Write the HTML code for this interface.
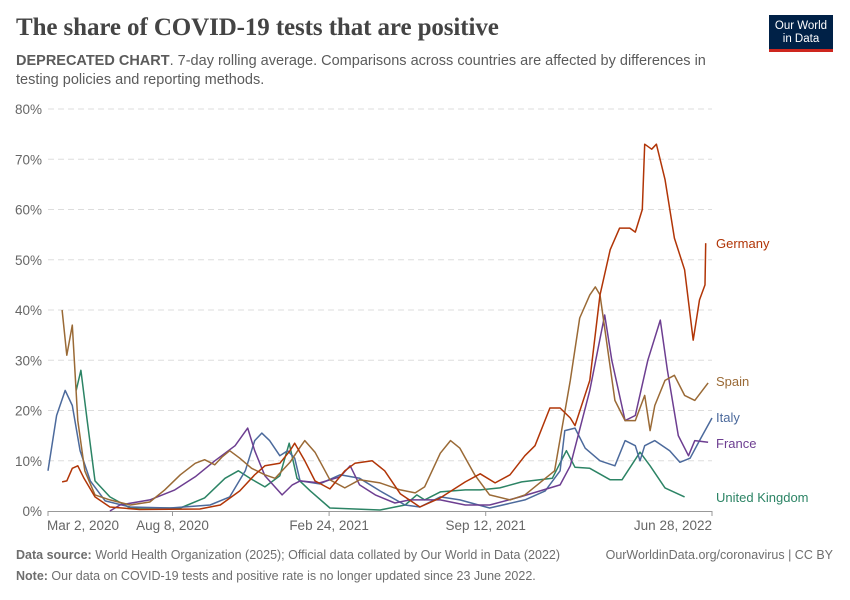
<!DOCTYPE html>
<html><head><meta charset="utf-8">
<style>
body{margin:0;background:#fff;width:850px;height:600px;overflow:hidden;font-family:"Liberation Sans",sans-serif}
#title{position:absolute;left:16px;top:14px;font-family:"Liberation Serif",serif;font-size:25px;color:#444;margin:0;font-weight:bold;letter-spacing:-0.1px}
#sub{position:absolute;left:16px;top:52px;width:720px;font-size:14.5px;line-height:19px;color:#5b5b5b}
#logo{position:absolute;left:769px;top:15px;width:64px;height:37px;background:#002147;border-bottom:3px solid #ce261e;color:#fff;font-size:11.5px;line-height:13px;text-align:center;box-sizing:border-box;padding-top:5px}
.foot{position:absolute;font-size:12.5px;color:#6e6e6e}
</style></head><body>
<h1 id="title">The share of COVID-19 tests that are positive</h1>
<div id="sub"><b>DEPRECATED CHART</b>. 7-day rolling average. Comparisons across countries are affected by differences in testing policies and reporting methods.</div>
<div id="logo">Our World<br>in Data</div>
<svg id="chart" width="850" height="600" style="position:absolute;left:0;top:0"></svg>
<div class="foot" style="left:16px;top:548px"><b>Data source:</b> World Health Organization (2025); Official data collated by Our World in Data (2022)</div>
<div class="foot" style="right:17px;top:548px">OurWorldinData.org/coronavirus | CC BY</div>
<div class="foot" style="left:16px;top:569px"><b>Note:</b> Our data on COVID-19 tests and positive rate is no longer updated since 23 June 2022.</div>
<script>
// day offsets from Mar 2, 2020 and positive rate (%)
const germanyDays=[18,24,31,38,46,60,79,117,194,220,245,264,277,296,309,315,328,341,360,379,392,414,430,450,475,501,533,552,571,590,609,622,641,654,667,673,692,705,718,730,743,750,759,762,771,777,788,800,813,824,832,839,840];
const germanyVals=[5.8,6,8.5,9,6.5,2.8,0.8,0.3,0.4,1.2,4,7.2,9,9.5,12,13.5,10,6,4.4,8,9.5,10,8,3.4,0.8,2.6,5.8,7.4,5.6,7.2,11,13,20.5,20.5,18.5,17,26,43,52,56.3,56.3,55.5,60,73,72,73,66,54.3,48,34,42,45,53.3];
const spainDays=[18,24,31,38,47,60,79,105,130,149,169,188,200,213,222,232,245,260,277,290,309,322,328,341,360,379,398,424,450,469,481,501,514,526,545,564,590,609,647,667,679,692,699,705,724,737,750,762,769,775,788,800,813,826,843];
const spainVals=[40,31,37,18,8,3.2,2.2,1.2,1.8,4.2,7.2,9.5,10.2,9.2,10.7,12,10.5,8.5,7.2,6.5,9.7,12.7,14,11.7,6.2,4.6,6.2,5.6,4.2,3.6,4.8,11.5,14,12.5,7.2,3.2,2.2,3.2,8,26,38.4,43,44.6,43,22,18,18,23,16,21,26,27,23,22,25.5];
const italyDays=[0,5,11,22,31,41,54,73,105,156,207,232,252,264,273,283,296,306,315,322,347,373,398,424,456,475,501,526,564,609,635,654,660,673,686,705,724,737,750,756,762,775,794,807,820,832,848];
const italyVals=[8,13,19,24,21,12,6,2,0.8,0.6,1.2,2.8,8,14,15.5,14,11,12,10.5,6,5.4,7.2,6.5,4,1.2,0.8,2.8,2.2,0.6,2.2,4,8,16,16.5,12.5,10,9,14,13,10,13,14,12,9.7,10.5,14,18.5];
const franceDays=[79,92,130,162,188,213,239,255,264,277,299,312,322,347,373,386,398,418,443,462,501,533,564,603,654,667,692,711,720,737,750,766,782,791,805,818,826,843];
const franceVals=[0,1.2,2.2,4.2,6.8,10,13,16.5,12,7,3.2,5.2,6,5.6,6.8,9,5.2,3.2,1.6,2.2,2.2,1.2,1.2,2.8,5.2,9,24,39,30,18,19,30,38,28,15,11,14,13.7];
const ukDays=[36,42,50,60,79,105,169,200,226,243,258,277,296,308,318,335,360,424,456,471,481,501,533,552,577,605,644,662,673,692,718,733,756,769,788,813];
const ukVals=[24,28,18,6,2.8,0.6,0.6,2.6,6.5,8,6.5,4.8,7,13.5,6.5,4,0.6,0.2,1.2,3.2,2.2,3.8,4.2,4.2,4.6,5.8,6.5,12,8.7,8.5,6.2,6.2,11.7,9,4.6,2.8];
const yTicks=[0,10,20,30,40,50,60,70,80];
const xTickDays=[0,159,359,559,848];
const xTickLabels=["Mar 2, 2020","Aug 8, 2020","Feb 24, 2021","Sep 12, 2021","Jun 28, 2022"];

const X0=48,X1=712,Y0=511,Y1=109,DMAX=848;
const xs=d=>X0+(X1-X0)*d/DMAX;
const ys=v=>Y0-(Y0-Y1)*v/80;
const NS="http://www.w3.org/2000/svg";
const svg=document.getElementById('chart');
function mk(t,a){const e=document.createElementNS(NS,t);for(const k in a)e.setAttribute(k,a[k]);svg.appendChild(e);return e;}
yTicks.forEach(v=>{
  if(v>0){const g=mk('line',{x1:X0,x2:X1,y1:ys(v),y2:ys(v),stroke:'#dddddd','stroke-dasharray':'6,4'});
  
  }
  const t=mk('text',{x:42,y:ys(v)+5,'text-anchor':'end','font-size':'13.5',fill:'#666','font-family':'Liberation Sans, sans-serif'});
  t.textContent=v+'%';
  
  
});
const ax=mk('line',{x1:X0,x2:X1,y1:Y0+0.5,y2:Y0+0.5,stroke:'#999'});


xTickDays.forEach((d,i)=>{
  const tk=mk('line',{x1:xs(d),x2:xs(d),y1:Y0,y2:Y0+5,stroke:'#999'});
  
  
  const anchor=i===0?'start':(i===xTickDays.length-1?'end':'middle');
  const t=mk('text',{x:xs(d)+(i===0?-1:0),y:Y0+19,'text-anchor':anchor,'font-size':'13.5',fill:'#666','font-family':'Liberation Sans, sans-serif'});
  t.textContent=xTickLabels[i];
  
  
});
const series=[
 ['united-kingdom',ukDays,ukVals,'#2c8465','United Kingdom'],
 ['italy',italyDays,italyVals,'#4c6a9c','Italy'],
 ['france',franceDays,franceVals,'#6d3e91','France'],
 ['spain',spainDays,spainVals,'#9a6a36','Spain'],
 ['germany',germanyDays,germanyVals,'#b13507','Germany']];
const labelY={'germany':243,'spain':381,'italy':417,'france':443,'united-kingdom':497};
series.forEach(s=>{
  const d=s[1].map((dd,i)=>(i?'L':'M')+xs(dd).toFixed(1)+','+ys(s[2][i]).toFixed(1)).join('');
  const p=mk('path',{d:d,fill:'none',stroke:s[3],'stroke-width':1.5,'stroke-linejoin':'round'});
  
  
  const t=mk('text',{x:716,y:labelY[s[0]]+5,'font-size':'13',fill:s[3],'font-family':'Liberation Sans, sans-serif'});
  t.textContent=s[4];
  
  
});
</script>
</body></html>
